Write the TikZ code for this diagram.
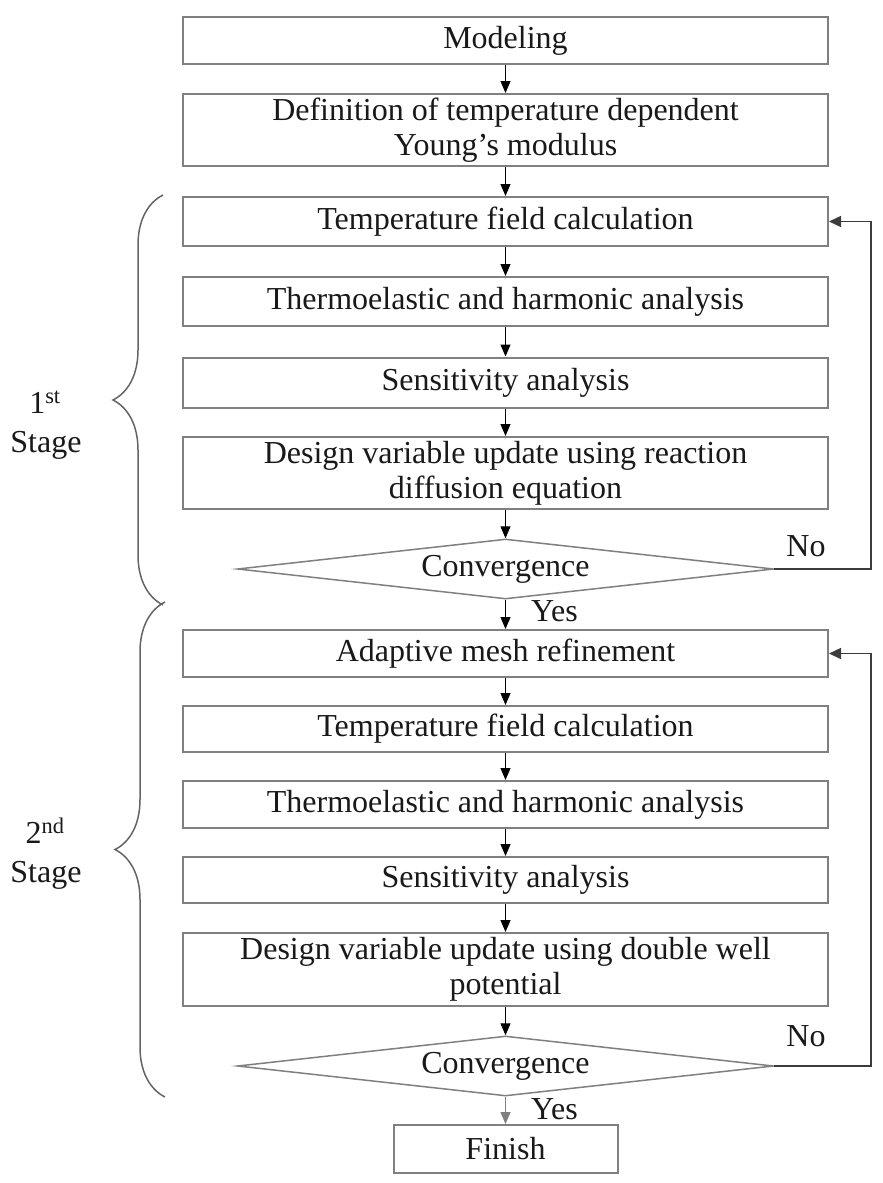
\documentclass[tikz,border=0pt]{standalone}
\usepackage{fontspec}
\setmainfont{Liberation Serif}
\usetikzlibrary{arrows.meta,shapes.geometric,decorations.pathreplacing}
\definecolor{boxgray}{RGB}{128,128,128}
\definecolor{loopgray}{RGB}{60,60,60}
\definecolor{bracegray}{RGB}{100,100,100}
\definecolor{txt}{RGB}{25,25,25}
\begin{document}
\begin{tikzpicture}[x=1pt,y=-1pt,
  box/.style={draw=boxgray,line width=2pt,minimum width=645pt,inner sep=0pt,align=center,
    font=\fontsize{32}{35}\selectfont,text=txt},
  dec/.style={draw=boxgray,line width=1.5pt,shape=diamond,aspect=9,inner sep=0pt,
    minimum width=536pt,minimum height=60pt,font=\fontsize{32}{35}\selectfont,text=txt},
  flow/.style={-{Triangle[length=12pt,width=10pt]},line width=1pt,draw=black},
  loopline/.style={-{Triangle[length=12pt,width=11pt]},line width=1.5pt,draw=loopgray},
  lbl/.style={font=\fontsize{32}{35}\selectfont,text=txt,inner sep=0pt},
  brc/.style={decorate,decoration={brace,amplitude=50pt},draw=bracegray,line width=1.5pt}
]
\fill[white] (0,0) rectangle (883,1183);
\useasboundingbox (0,0) rectangle (883,1183);

% first part
\node[box,minimum height=47pt] (m)  at (505.5,40.5) {Modeling};
\node[box,minimum height=72pt] (d)  at (505.5,130)  {Definition of temperature dependent\\Young’s modulus};
\node[box,minimum height=49pt] (t1) at (505.5,221.5) {Temperature field calculation};
\node[box,minimum height=49pt] (e1) at (505.5,301.5) {Thermoelastic and harmonic analysis};
\node[box,minimum height=50pt] (s1) at (505.5,382.5) {Sensitivity analysis};
\node[box,minimum height=72pt] (u1) at (505.5,473) {Design variable update using reaction\\diffusion equation};
\node[dec] (c1) at (505.5,569) {Convergence};

% second part
\node[box,minimum height=47pt] (a2) at (505.5,653.5) {Adaptive mesh refinement};
\node[box,minimum height=46pt] (t2) at (505.5,729) {Temperature field calculation};
\node[box,minimum height=47pt] (e2) at (505.5,804.5) {Thermoelastic and harmonic analysis};
\node[box,minimum height=46pt] (s2) at (505.5,880) {Sensitivity analysis};
\node[box,minimum height=73pt] (u2) at (505.5,969.5) {Design variable update using double well\\potential};
\node[dec] (c2) at (505.5,1066) {Convergence};
\node[box,minimum width=224pt,minimum height=48pt] (f) at (505.5,1149) {Finish};

% connectors
\draw[flow] (m) -- (d);
\draw[flow] (d) -- (t1);
\draw[flow] (t1) -- (e1);
\draw[flow] (e1) -- (s1);
\draw[flow] (s1) -- (u1);
\draw[flow] (u1) -- (c1.north);
\draw[flow] (c1.south) -- (a2);
\draw[flow] (a2) -- (t2);
\draw[flow] (t2) -- (e2);
\draw[flow] (e2) -- (s2);
\draw[flow] (s2) -- (u2);
\draw[flow] (u2) -- (c2.north);
\draw[flow,draw=boxgray] (c2.south) -- (f);

\draw[loopline] (c1.east) -- ++(96.5,0) |- (t1.east);
\draw[loopline] (c2.east) -- ++(96.5,0) |- (a2.east);

% labels
\node[lbl] (no1) at (806,546) {No};
\node[lbl] (no2) at (806,1036) {No};
\node[lbl,anchor=west] (yes1) at (531,611) {Yes};
\node[lbl,anchor=west] (yes2) at (531,1109) {Yes};

% braces
\draw[brc] (163,605) -- (163,195);
\draw[brc] (165,1097) -- (165,602);
\node[lbl,anchor=base] (st1a) at (45,413) {1\textsuperscript{st}};
\node[lbl,anchor=base] (st1b) at (46,452) {Stage};
\node[lbl,anchor=base] (st2a) at (45,843) {2\textsuperscript{nd}};
\node[lbl,anchor=base] (st2b) at (46,882) {Stage};
\end{tikzpicture}
\end{document}
